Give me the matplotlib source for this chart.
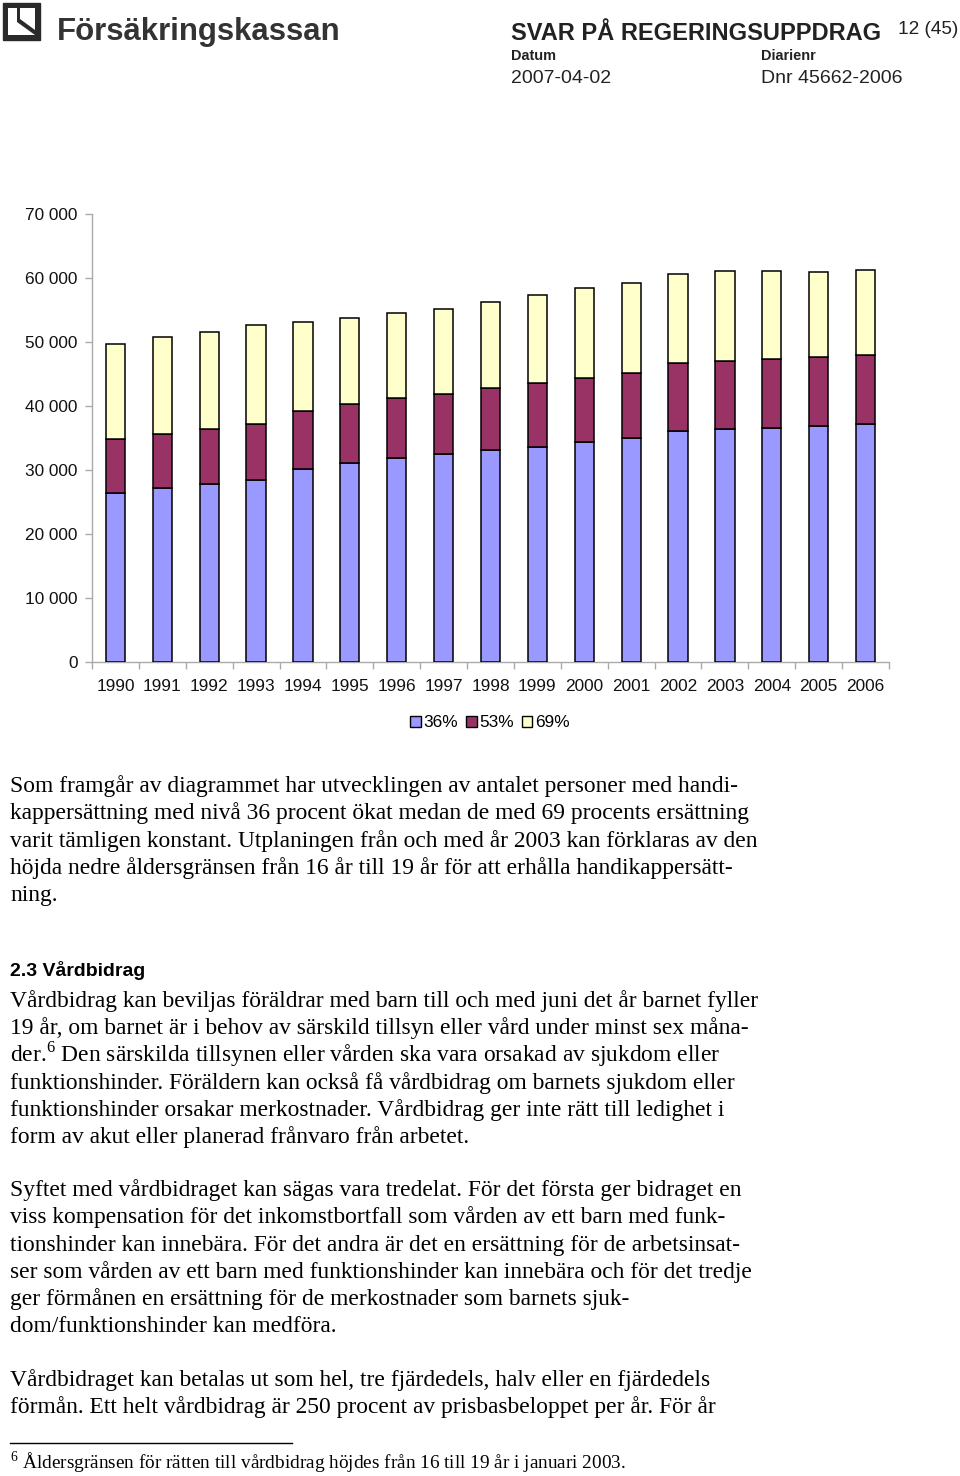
import matplotlib
matplotlib.use("Agg")
import matplotlib.pyplot as plt
from matplotlib import font_manager
from matplotlib.patches import Rectangle, Polygon
from matplotlib.lines import Line2D
import numpy as np

# ------------------------------------------------------------------
# data (antal personer med handikappersättning per ersättningsnivå)
# ------------------------------------------------------------------
YEARS = ['1990', '1991', '1992', '1993', '1994', '1995', '1996', '1997', '1998',
         '1999', '2000', '2001', '2002', '2003', '2004', '2005', '2006']
LEVEL_36 = [26450, 27190, 27760, 28440, 30100, 31090, 31930, 32450, 33050,
            33650, 34320, 34950, 36150, 36460, 36610, 36930, 37240]
LEVEL_53 = [8390, 8430, 8590, 8800, 9070, 9170, 9270, 9480, 9710,
            9940, 10060, 10260, 10520, 10620, 10730, 10670, 10730]
LEVEL_69 = [14850, 15110, 15210, 15360, 14010, 13490, 13380, 13280, 13490,
            13700, 14010, 13960, 14010, 13960, 13750, 13390, 13280]
SERIES_NAMES = ['36%', '53%', '69%']
Y_TICKS = [0, 10000, 20000, 30000, 40000, 50000, 60000, 70000]
Y_TICKLABELS = ['0', '10 000', '20 000', '30 000', '40 000', '50 000', '60 000', '70 000']

COLORS = ['#9999FF', '#993366', '#FFFFCC']

W, H = 960, 1476
SANS = 'Liberation Sans'
SERIF = 'Liberation Serif'
plt.rcParams['mathtext.fontset'] = 'custom'
plt.rcParams['mathtext.rm'] = SERIF

# smal rubrikfont om den finns
try:
    font_manager.findfont(font_manager.FontProperties(family='Liberation Sans Narrow'),
                          fallback_to_default=False)
    NARROW, NARROW_SIZE = 'Liberation Sans Narrow', 29
except Exception:
    NARROW, NARROW_SIZE = SANS, 23.6

fig = plt.figure(figsize=(W / 100, H / 100), dpi=100)


def fy(py):
    return 1 - py / H


def fx(px):
    return px / W


def px2pt(px):
    return px * 72 / 100


# ---------------- header ----------------
lax = fig.add_axes([0, 0, 1, 1], facecolor='none')
lax.set_xlim(0, W); lax.set_ylim(H, 0); lax.axis('off')
lax.add_patch(Rectangle((3, 3), 37, 37, facecolor='#2a2a2a', edgecolor='#2a2a2a'))
lax.add_patch(Polygon([(8, 8), (17, 8), (17, 22), (35, 35), (8, 35)], closed=True,
                      facecolor='white', edgecolor='none'))
lax.add_patch(Polygon([(20, 8), (35, 8), (35, 30), (20, 19)], closed=True,
                      facecolor='white', edgecolor='none'))

fig.text(fx(57), fy(40), 'Försäkringskassan', fontsize=px2pt(31.2), fontweight='bold',
         family=SANS, color='#333333', va='baseline', ha='left')
fig.text(fx(511), fy(40), 'SVAR PÅ REGERINGSUPPDRAG', fontsize=px2pt(NARROW_SIZE),
         fontweight='bold', family=NARROW, color='#222222', va='baseline', ha='left')
fig.text(fx(958), fy(34), '12 (45)', fontsize=px2pt(19), family=SANS, color='#222222',
         va='baseline', ha='right')
fig.text(fx(511), fy(60), 'Datum', fontsize=px2pt(14.5), fontweight='bold', family=SANS,
         color='#222222', va='baseline')
fig.text(fx(761), fy(60), 'Diarienr', fontsize=px2pt(14.5), fontweight='bold', family=SANS,
         color='#222222', va='baseline')
fig.text(fx(511), fy(83), '2007-04-02', fontsize=px2pt(19.5), family=SANS,
         color='#222222', va='baseline')
fig.text(fx(761), fy(83), 'Dnr 45662-2006', fontsize=px2pt(19.5), family=SANS,
         color='#222222', va='baseline')

# ---------------- chart ----------------
ax_left, ax_right, ax_top, ax_bottom = 92, 889, 214, 662
ax = fig.add_axes([fx(ax_left), fy(ax_bottom), fx(ax_right - ax_left),
                   (ax_bottom - ax_top) / H])
x = np.arange(len(YEARS))
bw = 0.41
bottom = np.zeros(len(YEARS))
for vals, col, name in zip([LEVEL_36, LEVEL_53, LEVEL_69], COLORS, SERIES_NAMES):
    ax.bar(x, vals, bw, bottom=bottom, color=col, edgecolor='black', linewidth=1.1,
           label=name, zorder=3)
    bottom += np.array(vals)

ax.set_xlim(-0.5, len(YEARS) - 0.5)
ax.set_ylim(0, 70000)
ax.set_yticks(Y_TICKS)
ax.set_yticklabels(Y_TICKLABELS)
ax.set_xticks(x)
ax.set_xticklabels(YEARS)
ax.set_xticks(np.arange(-0.5, len(YEARS)), minor=True)
ax.tick_params(axis='x', which='major', length=0, pad=12.5, labelsize=px2pt(17.3))
ax.tick_params(axis='x', which='minor', length=5, width=1, color='#aaaaaa', direction='out')
ax.tick_params(axis='y', length=5, width=1, color='#aaaaaa', pad=5.5, labelsize=px2pt(17.3))
for lab in ax.get_xticklabels() + ax.get_yticklabels():
    lab.set_family(SANS)
    lab.set_color('#111111')
for s in ['top', 'right']:
    ax.spines[s].set_visible(False)
for s in ['left', 'bottom']:
    ax.spines[s].set_color('#aaaaaa')
    ax.spines[s].set_linewidth(1)

handles = [Rectangle((0, 0), 1, 1, facecolor=c, edgecolor='black', linewidth=1) for c in COLORS]
leg = fig.legend(handles, SERIES_NAMES, loc='center', bbox_to_anchor=(fx(490), fy(723)),
                 ncol=3, frameon=False, handlelength=0.62, handleheight=0.62,
                 handletextpad=0.15, columnspacing=0.45,
                 prop={'family': SANS, 'size': px2pt(17.3)})

# ---------------- body text ----------------
BODY = px2pt(23.5)
LS = 27.3


def para(lines, y0, size=BODY):
    for i, t in enumerate(lines):
        fig.text(fx(10), fy(y0 + i * LS), t, fontsize=size, family=SERIF,
                 color='black', va='baseline', ha='left')


para(['Som framgår av diagrammet har utvecklingen av antalet personer med handi-',
      'kappersättning med nivå 36 procent ökat medan de med 69 procents ersättning',
      'varit tämligen konstant. Utplaningen från och med år 2003 kan förklaras av den',
      'höjda nedre åldersgränsen från 16 år till 19 år för att erhålla handikappersätt-',
      'ning.'], 792)

fig.text(fx(10), fy(976), '2.3 Vårdbidrag', fontsize=px2pt(19.5), fontweight='bold',
         family=SANS, color='black', va='baseline')

para(['Vårdbidrag kan beviljas föräldrar med barn till och med juni det år barnet fyller',
      '19 år, om barnet är i behov av särskild tillsyn eller vård under minst sex måna-',
      r'der.$^{\mathrm{6}}$ Den särskilda tillsynen eller vården ska vara orsakad av sjukdom eller',
      'funktionshinder. Föräldern kan också få vårdbidrag om barnets sjukdom eller',
      'funktionshinder orsakar merkostnader. Vårdbidrag ger inte rätt till ledighet i',
      'form av akut eller planerad frånvaro från arbetet.'], 1007)

para(['Syftet med vårdbidraget kan sägas vara tredelat. För det första ger bidraget en',
      'viss kompensation för det inkomstbortfall som vården av ett barn med funk-',
      'tionshinder kan innebära. För det andra är det en ersättning för de arbetsinsat-',
      'ser som vården av ett barn med funktionshinder kan innebära och för det tredje',
      'ger förmånen en ersättning för de merkostnader som barnets sjuk-',
      'dom/funktionshinder kan medföra.'], 1196)

para(['Vårdbidraget kan betalas ut som hel, tre fjärdedels, halv eller en fjärdedels',
      'förmån. Ett helt vårdbidrag är 250 procent av prisbasbeloppet per år. För år'], 1386)

lax.add_line(Line2D([10, 292], [1443, 1443], color='black', linewidth=1))
fig.text(fx(10), fy(1469), r'$^{\mathrm{6}}$ Åldersgränsen för rätten till vårdbidrag höjdes från 16 till 19 år i januari 2003.',
         fontsize=px2pt(19.3), family=SERIF, color='black', va='baseline')

fig.savefig('out.png', dpi=100, facecolor='white')
